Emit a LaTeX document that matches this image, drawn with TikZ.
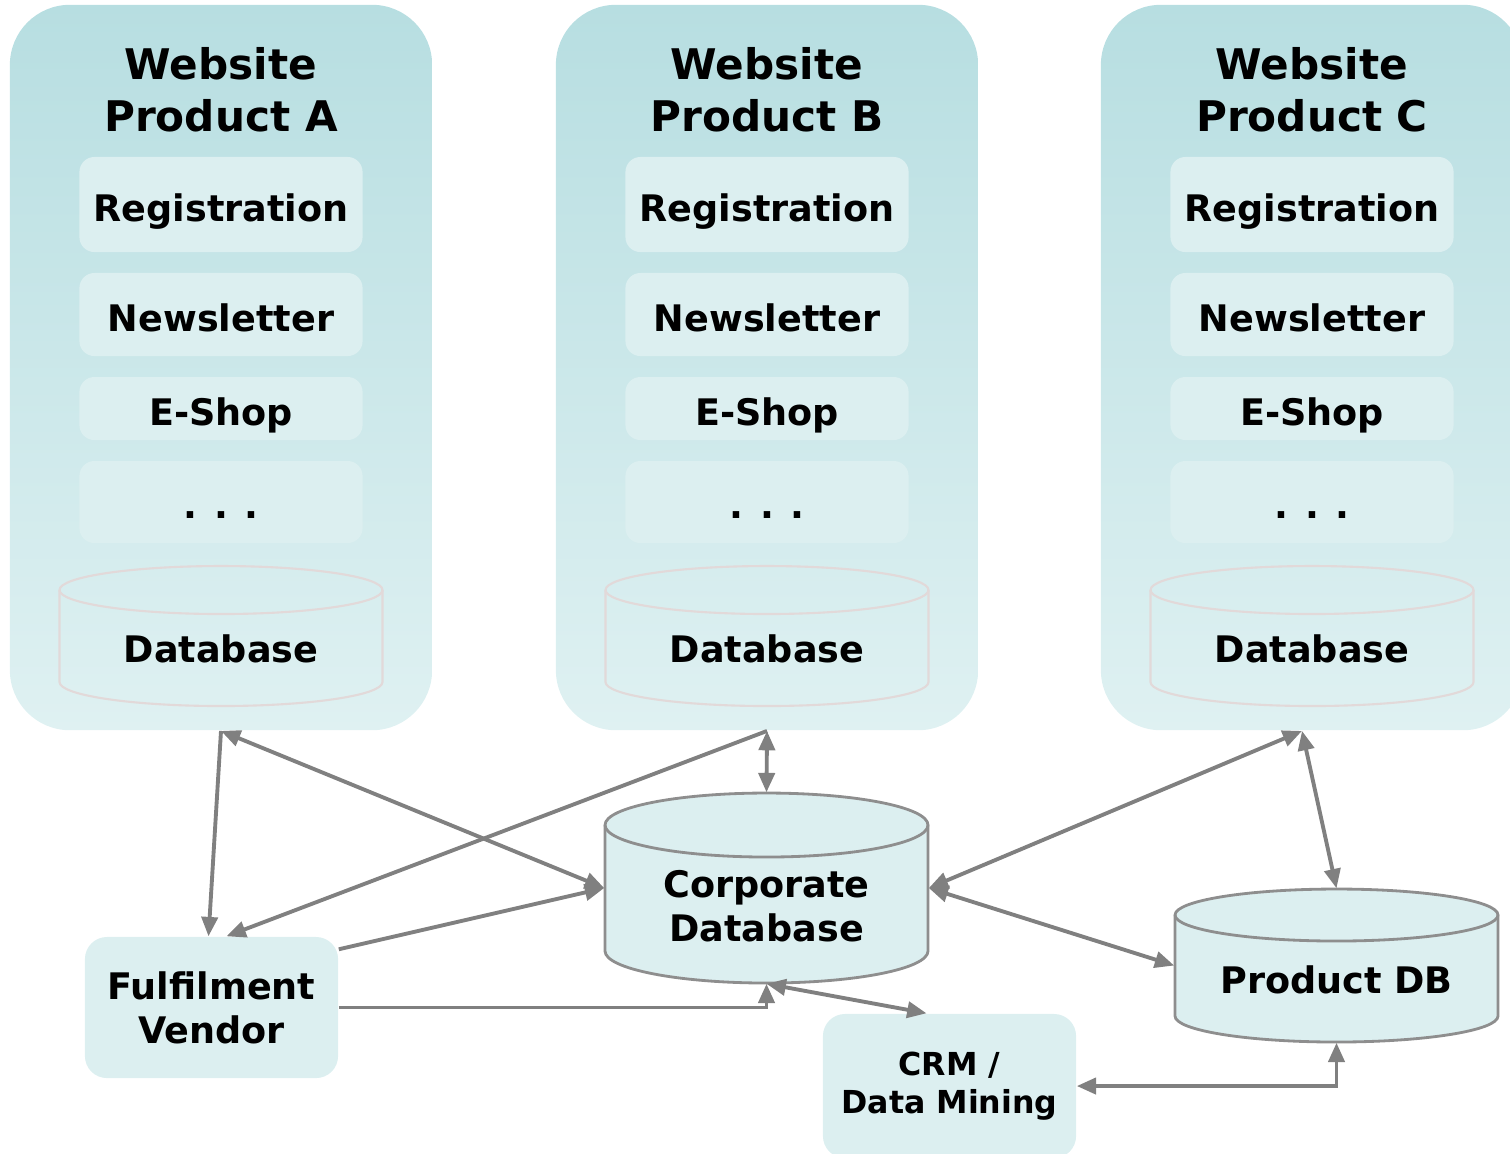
\documentclass[tikz,border=0pt]{standalone}
\usepackage{fontspec}
\setmainfont{DejaVu Sans}
\usetikzlibrary{arrows.meta,calc}

\definecolor{panelTop}{HTML}{B7DEE1}
\definecolor{panelBot}{HTML}{DFF1F2}
\definecolor{boxFill}{HTML}{DCEFF0}
\definecolor{lineGray}{HTML}{808080}
\definecolor{dbEdge}{HTML}{8E8E8E}
\definecolor{faintEdge}{HTML}{E2D9D9}

% cylinder outline: style, centre x, half width, top y, bottom y, y radius
\newcommand\dbcyl[6]{%
  \path[#1] ({#2-#3},{#4-#6}) -- ({#2-#3},{#5+#6})
    arc[start angle=180, end angle=360, x radius=#3, y radius=#6]
    -- ({#2+#3},{#4-#6})
    arc[start angle=0, end angle=180, x radius=#3, y radius=#6] -- cycle;
  \draw[#1, fill=none] ({#2-#3},{#4-#6})
    arc[start angle=180, end angle=360, x radius=#3, y radius=#6];
}

\tikzset{
  panel/.style={minimum width=4.22cm, minimum height=7.25cm, inner sep=0pt,
    rounded corners=0.6cm, top color=panelTop, bottom color=panelBot},
  head/.style={align=center, font=\fontsize{12}{14.8}\selectfont\bfseries},
  item/.style={fill=boxFill, rounded corners=0.15cm, minimum width=2.83cm, inner ysep=1pt,
    text height=11pt, text depth=1.5pt, font=\fontsize{10.4}{12.5}\selectfont\bfseries},
  lbl/.style={align=center, font=\fontsize{10.4}{12.5}\selectfont\bfseries},
  box/.style={fill=boxFill, rounded corners=0.22cm, inner sep=0pt, align=center},
  link/.style={draw=lineGray, line width=1.1pt},
  >={Triangle[length=5.5pt,width=4.6pt]},
}

\begin{document}
\begin{tikzpicture}[x=0.01cm, y=0.01cm]
  \useasboundingbox (0,0) rectangle (1510,-1153);

  % website panels
  \foreach \n/\x in {A/221, B/767, C/1312}{
    \node (p\n) [panel] at (\x,-367.5) {};
    \node (h\n) [head] at (\x,-90) {Website\\Product \n};
    \node (reg\n) [item, minimum height=0.95cm] at (\x,-204.5) {Registration};
    \node (news\n) [item, minimum height=0.83cm] at (\x,-314.5) {Newsletter};
    \node (shop\n) [item, minimum height=0.63cm] at (\x,-408.5) {E-Shop};
    \node (more\n) [item, minimum height=0.82cm] at (\x,-502) {. . .};
    \dbcyl{draw=faintEdge, line width=0.6pt}{\x}{161.5}{-566}{-706}{24}
    \node (db\n) [lbl] at (\x,-649) {Database};
  }

  % corporate database
  \dbcyl{fill=boxFill, draw=dbEdge, line width=0.8pt}{766.5}{161.5}{-793}{-983}{32}
  \node (corp) [minimum width=3.23cm, minimum height=1.9cm] at (766.5,-888) {};
  \node (corptxt) [lbl] at (766.5,-906) {Corporate\\Database};

  % product database
  \dbcyl{fill=boxFill, draw=dbEdge, line width=0.8pt}{1336.5}{161.5}{-889}{-1042}{26}
  \node (prod) [minimum width=3.23cm, minimum height=1.53cm] at (1336.5,-965.5) {};
  \node (prodtxt) [lbl] at (1336.5,-980) {Product DB};

  \node (ful) [box, lbl, minimum width=2.53cm, minimum height=1.41cm] at (211.5,-1007.5) {Fulfilment\\Vendor};
  \node (crm) [box, font=\fontsize{9}{10.8}\selectfont\bfseries, minimum width=2.53cm, minimum height=1.44cm] at (949.5,-1086) {CRM /\\Data Mining};

  % connections
  \draw[link, ->] (pA.south) -- ($(ful.north)+(-3,0)$);
  \draw[link, <->] (pA.south) -- (corp.west);
  \draw[link, ->] (pB.south) -- ($(ful.north)+(15,0)$);
  \draw[link, <->] (pB.south) -- (corp.north);
  \draw[link, ->] ($(ful.north east)+(0,-13)$) -- (corp.west);
  \draw[link, ->] (ful.east) -| (corp.south);
  \draw[link, <->] (corp.south) -- ($(crm.north)+(-23,0)$);
  \draw[link, <->] ($(pC.south)+(-10,0)$) -- (corp.east);
  \draw[link, <->] ($(pC.south)+(-10,0)$) -- (prod.north);
  \draw[link, <->] (corp.east) -- (prod.west);
  \draw[link, <->] (crm.east) -| (prod.south);
\end{tikzpicture}
\end{document}
